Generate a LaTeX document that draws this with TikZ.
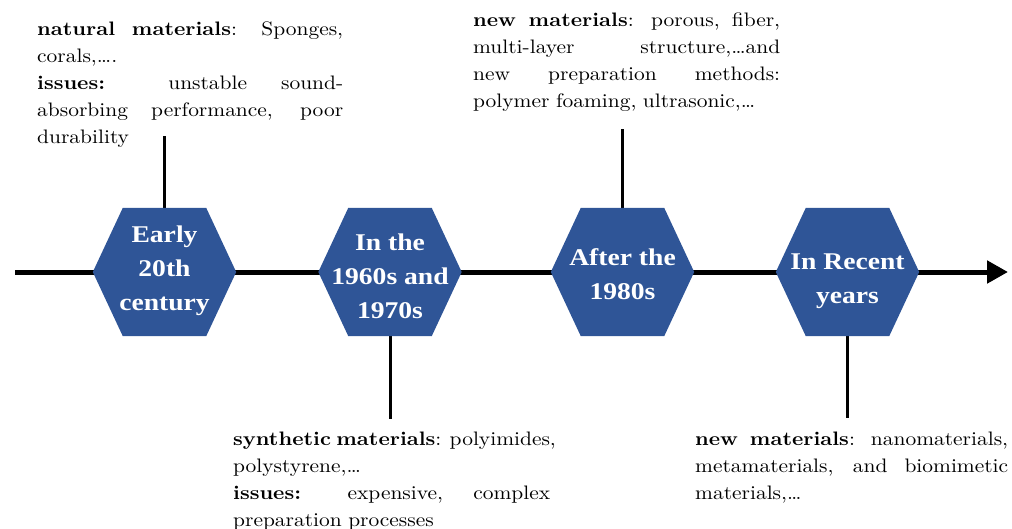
\documentclass[tikz,border=0pt]{standalone}
\usepackage{fontspec}
\setmainfont{lmroman10-regular.otf}[BoldFont=lmroman10-bold.otf, FakeStretch=1.1]
\newfontfamily\hexfamily{Liberation Serif}[FakeStretch=1.15]
\usetikzlibrary{arrows.meta}
\definecolor{hexblue}{RGB}{47,85,151}
\pgfdeclarelayer{bg}
\pgfdeclarelayer{hexl}
\pgfsetlayers{bg,hexl,main}
\newcommand{\jline}[2]{{\spaceskip=0pt\xspaceskip=0pt\makebox[#1][s]{#2}}}
\tikzset{
  hexnode/.style={minimum width=143pt, minimum height=128pt, inner sep=0pt},
  hextext/.style={text=white, align=center, inner sep=0pt,
    font=\hexfamily\bfseries\fontsize{24}{34}\selectfont},
  textblock/.style={inner sep=0pt, align=left, anchor=base west,
    font=\fontsize{19.5}{27}\selectfont},
  mainline/.style={line width=5pt, black},
  stem/.style={line width=3pt, black},
}
\begin{document}
\begin{tikzpicture}[x=1pt,y=-1pt]
\useasboundingbox (0,0) rectangle (1012,528);
% hexagon nodes
\node[hexnode, label={[hextext, yshift=1pt]center:Early\\20th\\century}] (h1) at (164.5,272) {};
\node[hexnode, label={[hextext, yshift=-4pt]center:In the\\1960s and\\1970s}] (h2) at (390,272) {};
\node[hexnode, label={[hextext, yshift=-2pt]center:After the\\1980s}] (h3) at (622.5,272) {};
\node[hexnode, label={[hextext, yshift=-9pt]center:In Recent\\years}] (h4) at (847.5,272) {};
\begin{pgfonlayer}{hexl}
\foreach \n in {h1,h2,h3,h4}{
  \fill[hexblue] (\n.west) -- ([xshift=30pt]\n.north west) -- ([xshift=-30pt]\n.north east)
    -- (\n.east) -- ([xshift=-30pt]\n.south east) -- ([xshift=30pt]\n.south west) -- cycle;
}
\end{pgfonlayer}
% text blocks
\node[textblock, text width=306pt] (t1) at (37,35) {%
\jline{306pt}{\textbf{natural materials}: Sponges,}\\
corals,\dots.\\
\jline{306pt}{\textbf{issues:} unstable sound-}\\
\jline{306pt}{absorbing performance, poor}\\
durability};
\node[textblock, text width=307pt] (t2) at (473,26) {%
\jline{307pt}{\textbf{new materials}: porous, fiber,}\\
\jline{307pt}{multi-layer structure,\dots and}\\
\jline{307pt}{new preparation methods:}\\
polymer foaming, ultrasonic,\dots};
\node[textblock, text width=317pt] (t3) at (233,445) {%
\jline{317pt}{\textbf{synthetic materials}: polyimides,}\\
polystyrene,\dots\\
\jline{317pt}{\textbf{issues:} expensive, complex}\\
preparation processes};
\node[textblock, text width=313pt] (t4) at (695,445) {%
\jline{313pt}{\textbf{new materials}: nanomaterials,}\\
\jline{313pt}{metamaterials, and biomimetic}\\
materials,\dots};
% connectors
\coordinate (s) at (15,272);
\coordinate (e) at (1008,272);
\coordinate (c1) at (164.5,136);
\coordinate (c2) at (390,419);
\coordinate (c3) at (622.5,129);
\coordinate (c4) at (847.5,418);
\begin{pgfonlayer}{bg}
\draw[mainline] (s) -- ([xshift=4pt]h1.west);
\draw[mainline] ([xshift=-4pt]h1.east) -- ([xshift=4pt]h2.west);
\draw[mainline] ([xshift=-4pt]h2.east) -- ([xshift=4pt]h3.west);
\draw[mainline] ([xshift=-4pt]h3.east) -- ([xshift=4pt]h4.west);
\draw[mainline, -{Triangle[length=21pt,width=22pt]}] ([xshift=-4pt]h4.east) -- (e);
\draw[stem] (h1.north) -- (c1);
\draw[stem] (h2.south) -- (c2);
\draw[stem] (h3.north) -- (c3);
\draw[stem] (h4.south) -- (c4);
\end{pgfonlayer}
\end{tikzpicture}
\end{document}
